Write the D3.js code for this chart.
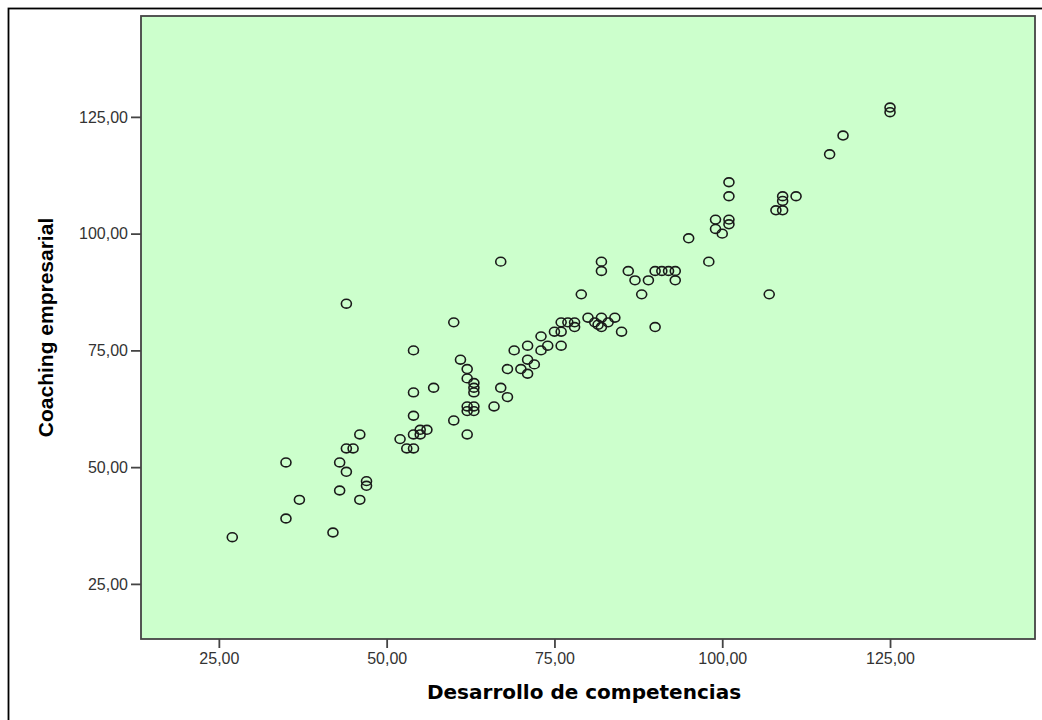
<!DOCTYPE html>
<html>
<head>
<meta charset="utf-8">
<script src="https://cdn.jsdelivr.net/npm/d3@7"></script>
<style>
  body { margin: 0; background: #fff; }
</style>
</head>
<body>
<div id="chart"></div>
<script>
// Desarrollo de competencias (x) vs Coaching empresarial (y), one entry per case
const desarrollo = [
  27, 42, 35, 37, 46, 43, 47, 47, 44, 35, 43, 44, 45, 53, 54, 52, 54, 55, 55, 56,
  46, 54, 54, 57, 54, 44,
  60, 62, 62, 63, 62, 63, 66, 68, 67, 63, 63, 63, 62, 62, 61, 68, 70, 71, 71, 72,
  69, 71, 73, 74, 76, 73, 75, 76, 76, 77, 78, 78, 80, 81, 81.5, 82, 82, 83, 84, 85, 90, 60,
  67, 82, 82, 86, 87, 89, 90, 91, 92, 93, 93, 79, 88,
  95, 98, 99, 99, 100, 101, 101, 101, 101, 107, 108, 109, 109, 109, 111, 116, 118, 125, 125
];
const coaching = [
  35, 36, 39, 43, 43, 45, 46, 47, 49, 51, 51, 54, 54, 54, 54, 56, 57, 57, 58, 58,
  57, 61, 66, 67, 75, 85,
  60, 57, 62, 62, 63, 63, 63, 65, 67, 66, 67, 68, 69, 71, 73, 71, 71, 70, 73, 72,
  75, 76, 75, 76, 76, 78, 79, 79, 81, 81, 81, 80, 82, 81, 80.5, 82, 80, 81, 82, 79, 80, 81,
  94, 94, 92, 92, 90, 90, 92, 92, 92, 92, 90, 87, 87,
  99, 94, 101, 103, 100, 102, 103, 108, 111, 87, 105, 105, 107, 108, 108, 117, 121, 126, 127
];
const xTicks = [25, 50, 75, 100, 125];
const yTicks = [25, 50, 75, 100, 125];
const xTitle = "Desarrollo de competencias";
const yTitle = "Coaching empresarial";

const width = 1042, height = 720;
const plot = { left: 141, top: 16, right: 1035, bottom: 639 };

const points = desarrollo.map((d, i) => ({ x: d, y: coaching[i] }));

const locale = d3.formatLocale({ decimal: ",", thousands: ".", grouping: [3], currency: ["", ""] });
const fmt = locale.format(".2f");

const svg = d3.select("#chart").append("svg")
  .attr("width", width)
  .attr("height", height);

// outer frame (only top and left edges fall inside the picture)
svg.append("rect")
  .attr("x", 8.5)
  .attr("y", 8.5)
  .attr("width", width + 50)
  .attr("height", height + 50)
  .attr("fill", "none")
  .attr("stroke", "#000")
  .attr("stroke-width", 1.8);

const x = d3.scaleLinear()
  .domain([13.4, 146.6])
  .range([plot.left, plot.right]);

const y = d3.scaleLinear()
  .domain([13.2, 146.6])
  .range([plot.bottom, plot.top]);

svg.append("rect")
  .attr("x", plot.left)
  .attr("y", plot.top)
  .attr("width", plot.right - plot.left)
  .attr("height", plot.bottom - plot.top)
  .attr("fill", "#ccffcc");

svg.append("g")
  .selectAll("ellipse")
  .data(points)
  .enter()
  .append("ellipse")
  .attr("cx", d => x(d.x))
  .attr("cy", d => y(d.y))
  .attr("rx", 5)
  .attr("ry", 4.4)
  .attr("fill", "none")
  .attr("stroke", "#1a1a1a")
  .attr("stroke-width", 1.6);

svg.append("rect")
  .attr("x", plot.left)
  .attr("y", plot.top)
  .attr("width", plot.right - plot.left)
  .attr("height", plot.bottom - plot.top)
  .attr("fill", "none")
  .attr("stroke", "#444")
  .attr("stroke-width", 1.8);

const xAxis = svg.append("g")
  .attr("transform", `translate(0,${plot.bottom})`)
  .call(d3.axisBottom(x).tickValues(xTicks).tickSize(9).tickPadding(5).tickFormat(fmt));

const yAxis = svg.append("g")
  .attr("transform", `translate(${plot.left},0)`)
  .call(d3.axisLeft(y).tickValues(yTicks).tickSize(10).tickPadding(3).tickFormat(fmt));

[xAxis, yAxis].forEach(g => {
  g.select(".domain").remove();
  g.selectAll(".tick line").attr("stroke", "#444").attr("stroke-width", 1.8);
  g.selectAll(".tick text")
    .attr("fill", "#333")
    .style("font-family", "'Liberation Sans', Arial, sans-serif")
    .style("font-size", "16px");
});

svg.append("text")
  .attr("x", (plot.left + plot.right) / 2 - 4)
  .attr("y", 699)
  .attr("text-anchor", "middle")
  .style("font-family", "'DejaVu Sans', Verdana, sans-serif")
  .style("font-weight", "bold")
  .style("font-size", "20px")
  .attr("fill", "#000")
  .text(xTitle);

svg.append("text")
  .attr("transform", `translate(53,${(plot.top + plot.bottom) / 2}) rotate(-90)`)
  .attr("text-anchor", "middle")
  .style("font-family", "'Liberation Sans', Arial, sans-serif")
  .style("font-weight", "bold")
  .style("font-size", "21px")
  .attr("fill", "#000")
  .text(yTitle);
</script>
</body>
</html>
